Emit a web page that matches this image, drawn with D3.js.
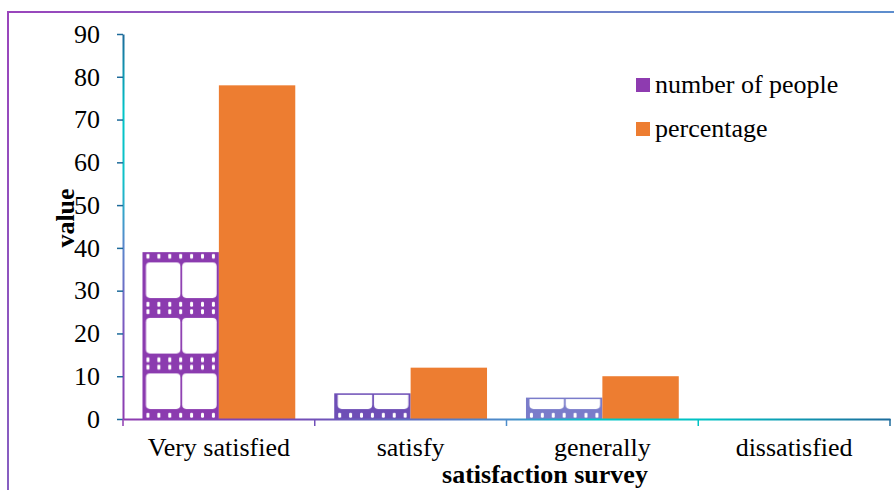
<!DOCTYPE html>
<html>
<head>
<meta charset="utf-8">
<script src="https://cdn.jsdelivr.net/npm/d3@7"></script>
<style>
  html, body { margin: 0; padding: 0; background: #fff; }
  svg { display: block; }
</style>
</head>
<body>
<svg id="chart" width="894" height="490"></svg>
<script>
// Survey results
const categories = ["Very satisfied", "satisfy", "generally", "dissatisfied"];
const seriesNames = ["number of people", "percentage"];
const peopleValues = [39, 6, 5, 0];
const percentValues = [78, 12, 10, 0];
const yTicks = [0, 10, 20, 30, 40, 50, 60, 70, 80, 90];

// Colours
const peopleBarColors = ["#8B3BAF", "#6E4EB6", "#7A7CCA"];
const legendColors = ["#8E3BB0", "#ED7D31"];
const orange = "#ED7D31";
const serif = "Liberation Serif";
const fontSize = "26px";

const svg = d3.select("#chart");
const plot = { left: 123, right: 890, top: 34, bottom: 419 };

const defs = svg.append("defs");

// Outer frame gradient
const frameGrad = defs.append("linearGradient").attr("id", "frameGrad")
  .attr("gradientUnits", "userSpaceOnUse")
  .attr("x1", 8).attr("y1", 12).attr("x2", 894).attr("y2", 490);
frameGrad.append("stop").attr("offset", 0).attr("stop-color", "#9A45BC");
frameGrad.append("stop").attr("offset", 0.5).attr("stop-color", "#6F7FC8");
frameGrad.append("stop").attr("offset", 1).attr("stop-color", "#4E9AD2");

svg.append("rect")
  .attr("x", 8).attr("y", 12).attr("width", 900).attr("height", 500)
  .attr("fill", "none").attr("stroke", "url(#frameGrad)").attr("stroke-width", 2);

// Scales
const y = d3.scaleLinear().domain([0, 90]).range([plot.bottom, plot.top]);
const x0 = d3.scaleBand().domain(categories).range([plot.left, plot.right]).paddingInner(0).paddingOuter(0);
const x1 = d3.scaleBand().domain(seriesNames).range([0, x0.bandwidth()]).paddingInner(0).paddingOuter(0.255);
const bw = x1.bandwidth();

// Film-strip fill for the "number of people" bars, anchored at the baseline.
// Pattern coordinates are in each group's local space (groups are shifted by x0).
const tileH = 55.5;
peopleValues.forEach((v, i) => {
  if (v <= 0) return;
  const color = peopleBarColors[i];
  const pat = defs.append("pattern").attr("id", "film" + i)
    .attr("patternUnits", "userSpaceOnUse")
    .attr("x", x1(seriesNames[0])).attr("y", y(0))
    .attr("width", bw).attr("height", tileH);
  pat.append("rect").attr("width", bw).attr("height", tileH).attr("fill", color);
  [1.25, 49.25].forEach(hy => {
    d3.range(7).forEach(k => {
      pat.append("rect")
        .attr("x", (k + 0.5) * bw / 7 - 1.5).attr("y", hy)
        .attr("width", 3).attr("height", 5).attr("rx", 1.2)
        .attr("fill", "#fff");
    });
  });
  const left = 3.5, gap = 1.8, right = 2.2;
  const fw = (bw - left - gap - right) / 2;
  [left, left + fw + gap].forEach(fx => {
    pat.append("rect")
      .attr("x", fx).attr("y", 10).attr("width", fw).attr("height", 35.5)
      .attr("rx", 4).attr("fill", "#fff");
  });
});

// X axis gradient
const xGrad = defs.append("linearGradient").attr("id", "xGrad")
  .attr("gradientUnits", "userSpaceOnUse")
  .attr("x1", plot.left).attr("y1", 0).attr("x2", plot.right).attr("y2", 0);
[[0, "#8E3BB0"], [0.25, "#7150B8"], [0.5, "#4C8CCA"], [0.62, "#00C6C6"], [0.76, "#00C2C4"], [1, "#1D6B9C"]]
  .forEach(([o, c]) => xGrad.append("stop").attr("offset", o).attr("stop-color", c));

// Y axis gradient
const yGrad = defs.append("linearGradient").attr("id", "yGrad")
  .attr("gradientUnits", "userSpaceOnUse")
  .attr("x1", 0).attr("y1", plot.top).attr("x2", 0).attr("y2", plot.bottom);
[[0, "#1D6A9A"], [0.2, "#00C4C8"], [0.38, "#10C0C8"], [0.55, "#5A86CC"], [0.75, "#7A5AC0"], [1, "#8E3BB0"]]
  .forEach(([o, c]) => yGrad.append("stop").attr("offset", o).attr("stop-color", c));

// Bars
const groups = svg.append("g").selectAll("g").data(categories).join("g")
  .attr("transform", d => `translate(${x0(d)},0)`);

groups.each(function(cat, i) {
  const g = d3.select(this);
  const pv = peopleValues[i];
  const qv = percentValues[i];
  if (pv > 0) {
    g.append("rect")
      .attr("x", x1(seriesNames[0]) + 0.75).attr("y", y(pv) + 0.75)
      .attr("width", bw - 1.5).attr("height", y(0) - y(pv) - 0.75)
      .attr("fill", `url(#film${i})`)
      .attr("stroke", peopleBarColors[i]).attr("stroke-width", 1.5);
  }
  if (qv > 0) {
    g.append("rect")
      .attr("x", x1(seriesNames[1])).attr("y", y(qv))
      .attr("width", bw).attr("height", y(0) - y(qv))
      .attr("fill", orange);
  }
});

// Y axis
const yAxis = svg.append("g").attr("transform", `translate(${plot.left},0)`)
  .call(d3.axisLeft(y).tickValues(yTicks).tickSize(6).tickSizeOuter(0).tickPadding(17));
yAxis.select(".domain").attr("stroke", "url(#yGrad)").attr("stroke-width", 2);
yAxis.selectAll(".tick line").attr("stroke", "url(#yGrad)").attr("stroke-width", 1.5);
yAxis.selectAll(".tick text").attr("fill", "#000")
  .style("font-family", serif).style("font-size", fontSize);

// X axis
const xAxis = svg.append("g").attr("transform", `translate(0,${plot.bottom})`)
  .call(d3.axisBottom(x0).tickSize(0).tickPadding(19));
xAxis.select(".domain").attr("stroke", "url(#xGrad)").attr("stroke-width", 2);
xAxis.selectAll(".tick text").attr("fill", "#000")
  .style("font-family", serif).style("font-size", fontSize);
// Category boundary ticks
const bounds = categories.map(c => x0(c)).concat([plot.right]);
xAxis.append("g").selectAll("line").data(bounds).join("line")
  .attr("x1", d => d).attr("x2", d => d).attr("y1", 0).attr("y2", 7)
  .attr("stroke", "url(#xGrad)").attr("stroke-width", 1.5);

// Axis titles
svg.append("text")
  .attr("transform", `translate(74,218) rotate(-90)`)
  .attr("text-anchor", "middle")
  .style("font-family", serif).style("font-size", fontSize).style("font-weight", "bold")
  .text("value");
svg.append("text")
  .attr("x", 545).attr("y", 483)
  .attr("text-anchor", "middle")
  .style("font-family", serif).style("font-size", fontSize).style("font-weight", "bold")
  .text("satisfaction survey");

// Legend
const legend = svg.append("g").attr("transform", "translate(636,78)");
seriesNames.forEach((name, i) => {
  const row = legend.append("g").attr("transform", `translate(0,${i * 44})`);
  row.append("rect").attr("width", 14).attr("height", 14).attr("fill", legendColors[i]);
  row.append("text").attr("x", 19).attr("y", 15).attr("fill", "#000")
    .style("font-family", serif).style("font-size", fontSize).text(name);
});
</script>
</body>
</html>
